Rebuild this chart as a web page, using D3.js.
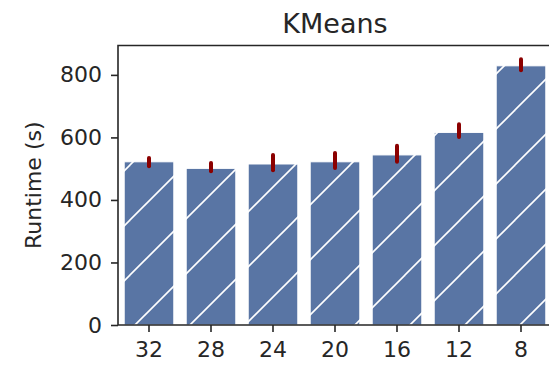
<!DOCTYPE html>
<html>
<head>
<meta charset="utf-8">
<script src="https://cdn.jsdelivr.net/npm/d3@7"></script>
<style>
  body { margin: 0; background: #fff; }
  svg { display: block; font-family: "DejaVu Sans", sans-serif; }
</style>
</head>
<body>
<svg id="chart" width="549" height="366"></svg>
<script>
// data
var categories = ["32", "28", "24", "20", "16", "12", "8"];
var runtime = [522, 501, 515, 522, 544, 616, 829];
var ciLow = [508, 492, 495, 502, 522, 601, 815];
var ciHigh = [534, 518, 544, 550, 573, 642, 850];
var yTicks = [0, 200, 400, 600, 800];

var svg = d3.select("#chart");
// plot box (note: "top" would clash with window.top)
var plotL = 118, plotR = 552, plotT = 45.5, plotB = 325;
var ink = "#262626";

var x = d3.scaleBand()
  .domain(categories)
  .range([plotL, plotR])
  .paddingInner(0.2)
  .paddingOuter(0.1);

var y = d3.scaleLinear()
  .domain([0, 894])
  .range([plotB, plotT]);

// hatch "/" pattern
var defs = svg.append("defs");
var pat = defs.append("pattern")
  .attr("id", "hatch")
  .attr("patternUnits", "userSpaceOnUse")
  .attr("x", 20)
  .attr("y", 0)
  .attr("width", 55)
  .attr("height", 55);
pat.append("rect").attr("width", 55).attr("height", 55).attr("fill", "#5975a4");
[[0, 55, 55, 0], [-5, 5, 5, -5], [50, 60, 60, 50]].forEach(function(l) {
  pat.append("line")
    .attr("x1", l[0]).attr("y1", l[1]).attr("x2", l[2]).attr("y2", l[3])
    .attr("stroke", "#fff")
    .attr("stroke-width", 1.6);
});

var rows = categories.map(function(c, i) {
  return { cat: c, v: runtime[i], lo: ciLow[i], hi: ciHigh[i] };
});

// bars
svg.selectAll(".bar")
  .data(rows)
  .enter()
  .append("rect")
  .attr("class", "bar")
  .attr("x", function(d) { return x(d.cat); })
  .attr("y", function(d) { return y(d.v); })
  .attr("width", x.bandwidth())
  .attr("height", function(d) { return y(0) - y(d.v); })
  .attr("fill", "url(#hatch)")
  .attr("stroke", "#fff")
  .attr("stroke-width", 1);

// error bars
svg.selectAll(".err")
  .data(rows)
  .enter()
  .append("line")
  .attr("class", "err")
  .attr("x1", function(d) { return x(d.cat) + x.bandwidth() / 2; })
  .attr("x2", function(d) { return x(d.cat) + x.bandwidth() / 2; })
  .attr("y1", function(d) { return y(d.lo); })
  .attr("y2", function(d) { return y(d.hi); })
  .attr("stroke", "#8b0000")
  .attr("stroke-width", 4)
  .attr("stroke-linecap", "round");

// axes
var xAxis = svg.append("g")
  .attr("transform", "translate(0," + plotB + ")")
  .call(d3.axisBottom(x).tickSize(7).tickPadding(9).tickSizeOuter(0));

var yAxis = svg.append("g")
  .attr("transform", "translate(" + plotL + ",0)")
  .call(d3.axisLeft(y).tickValues(yTicks).tickSize(7).tickPadding(9).tickSizeOuter(0));

[xAxis, yAxis].forEach(function(a) {
  a.selectAll("path").remove();
  a.selectAll("line").attr("stroke", ink).attr("stroke-width", 1.6);
  a.selectAll("text").attr("fill", ink).style("font-size", "22px").style("font-family", "DejaVu Sans");
});

// spines
svg.append("path")
  .attr("d", "M" + plotR + "," + plotT + "H" + plotL + "V" + plotB + "H" + plotR)
  .attr("fill", "none")
  .attr("stroke", ink)
  .attr("stroke-width", 1.6);

// labels
svg.append("text")
  .attr("x", (plotL + plotR) / 2)
  .attr("y", 32.5)
  .attr("text-anchor", "middle")
  .attr("fill", ink)
  .style("font-size", "27px")
  .text("KMeans");

svg.append("text")
  .attr("transform", "translate(41," + (plotT + plotB) / 2 + ") rotate(-90)")
  .attr("text-anchor", "middle")
  .attr("fill", ink)
  .style("font-size", "22px")
  .text("Runtime (s)");
</script>
</body>
</html>
